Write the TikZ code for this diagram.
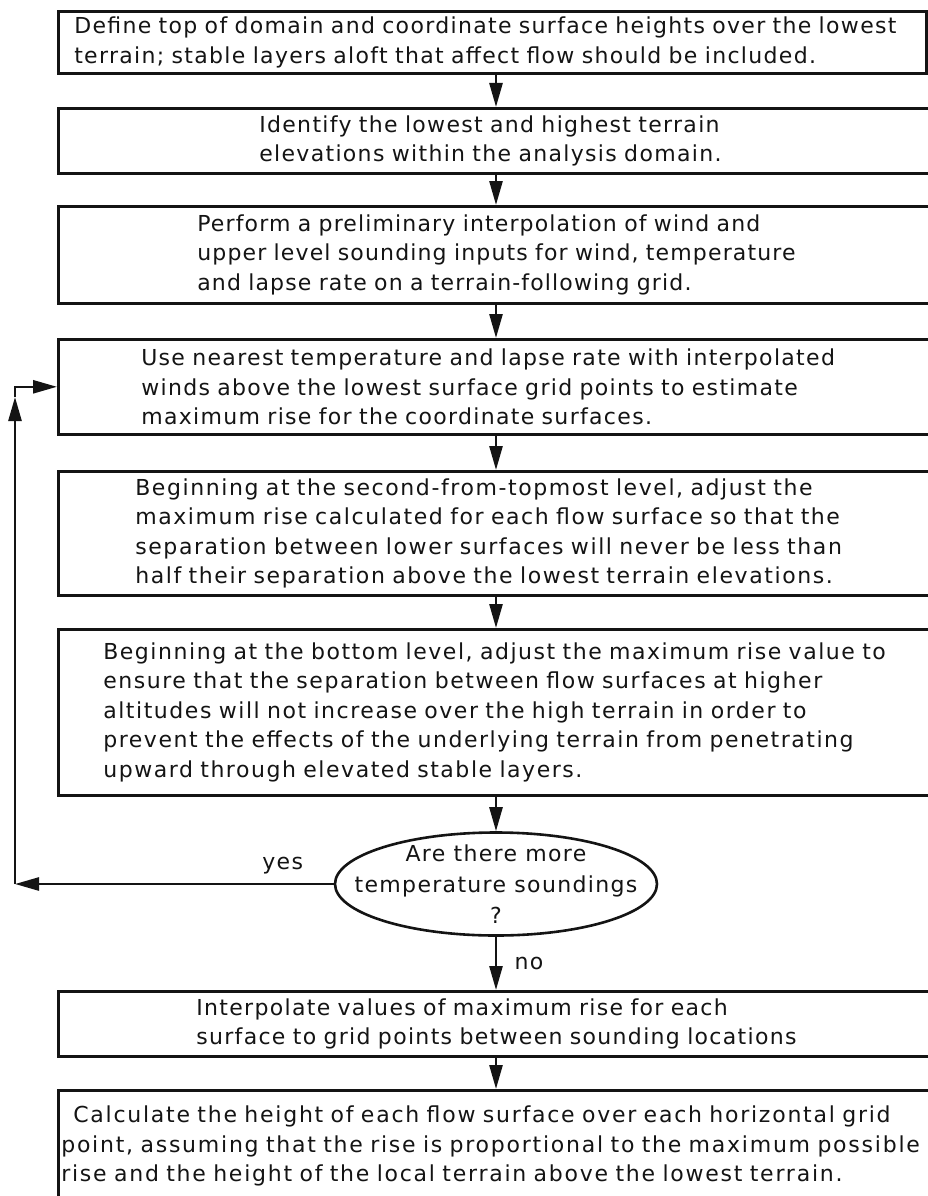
\documentclass[tikz,border=0pt]{standalone}
\usepackage{fontspec}
\setmainfont{DejaVu Sans}[LetterSpace=6]
\usepackage{xcolor}
\definecolor{ink}{RGB}{20,20,20}
\usepackage{tikz}
\usetikzlibrary{arrows.meta,positioning,calc,shapes.geometric}
\tikzset{
  stepbox/.style={draw=ink, line width=2.6pt, rectangle, anchor=north west,
    align=left, inner ysep=0pt, text=ink,
    font=\fontsize{22}{29.5}\selectfont},
  tracking/.style={font=\fontsize{22}{29.5}\selectfont\addfontfeature{LetterSpace=#1}},
  decision/.style={draw=ink, line width=2.6pt, ellipse, inner xsep=-30pt,
    inner ysep=-8pt, minimum width=322pt, minimum height=103pt,
    align=center, text=ink, font=\fontsize{22}{31}\selectfont},
  flow/.style={draw=ink, line width=2.6pt, -{Triangle[length=24pt,width=13pt]}},
  tag/.style={text=ink, font=\fontsize{22}{26}\selectfont},
}

\begin{document}
\begin{tikzpicture}[x=1pt,y=-1pt]
\useasboundingbox[fill=white] (0,0) rectangle (928,1196);

% steps, top to bottom
\node[stepbox, inner xsep=16pt, text width=836pt, minimum height=62pt] (define) at (57,10)
  {Define top of domain and coordinate surface heights over the lowest\\
   terrain; stable layers aloft that affect flow should be included.};
\node[stepbox, inner xsep=201pt, text width=500pt, minimum height=65pt] (extremes) at (57,107)
  {Identify the lowest and highest terrain\\
   elevations within the analysis domain.};
\node[stepbox, tracking=5.2, inner xsep=139pt, text width=640pt, minimum height=97pt] (prelim) at (57,205)
  {Perform a preliminary interpolation of wind and\\
   upper level sounding inputs for wind, temperature\\
   and lapse rate on a terrain-following grid.};
\node[stepbox, inner xsep=83pt, text width=740pt, minimum height=95pt] (maxrise) at (57,338)
  {Use nearest temperature and lapse rate with interpolated\\
   winds above the lowest surface grid points to estimate\\
   maximum rise for the coordinate surfaces.};
\node[stepbox, tracking=7.2, inner xsep=77pt, text width=760pt, minimum height=124pt] (topdown) at (57,470)
  {Beginning at the second-from-topmost level, adjust the\\
   maximum rise calculated for each flow surface so that the\\
   separation between lower surfaces will never be less than\\
   half their separation above the lowest terrain elevations.};
\node[stepbox, tracking=7, inner xsep=45pt, text width=830pt, minimum height=166pt] (bottomup) at (57,628)
  {Beginning at the bottom level, adjust the maximum rise value to\\
   ensure that the separation between flow surfaces at higher\\
   altitudes will not increase over the high terrain in order to\\
   prevent the effects of the underlying terrain from penetrating\\
   upward through elevated stable layers.};
\node[decision] (more) at (496,884)
  {Are there more\\temperature soundings\\?};
\node[stepbox, inner xsep=138pt, text width=640pt, minimum height=65pt] (interp) at (57,990)
  {Interpolate values of maximum rise for each\\
   surface to grid points between sounding locations};
\node[stepbox, tracking=8, inner xsep=3pt, text width=900pt, minimum height=112pt] (height) at (57,1089)
  {\hspace*{12pt}Calculate the height of each flow surface over each horizontal grid\\
   point, assuming that the rise is proportional to the maximum possible\\
   rise and the height of the local terrain above the lowest terrain.};

% connectors
\draw[flow] (define.south -| more) -- (extremes.north -| more);
\draw[flow] (extremes.south -| more) -- (prelim.north -| more);
\draw[flow] (prelim.south -| more) -- (maxrise.north -| more);
\draw[flow] (maxrise.south -| more) -- (topdown.north -| more);
\draw[flow] (topdown.south -| more) -- (bottomup.north -| more);
\draw[flow] (bottomup.south -| more) -- (more.north);
\draw[flow] (more.south) -- (interp.north -| more)
  node[tag, pos=0.5, right=14pt] (nolabel) {no};
\draw[flow] (interp.south -| more) -- (height.north -| more);

% loop back
\coordinate (upTip) at (15,397);
\coordinate (yesEnd) at (upTip |- more.west);
\draw[flow] (more.west) -- (yesEnd)
  node[tag, pos=0.16, above=5pt] (yeslabel) {yes};
\draw[flow] (yesEnd) -- (upTip);
\draw[flow] (upTip) |- (maxrise.west);
\end{tikzpicture}
\end{document}
